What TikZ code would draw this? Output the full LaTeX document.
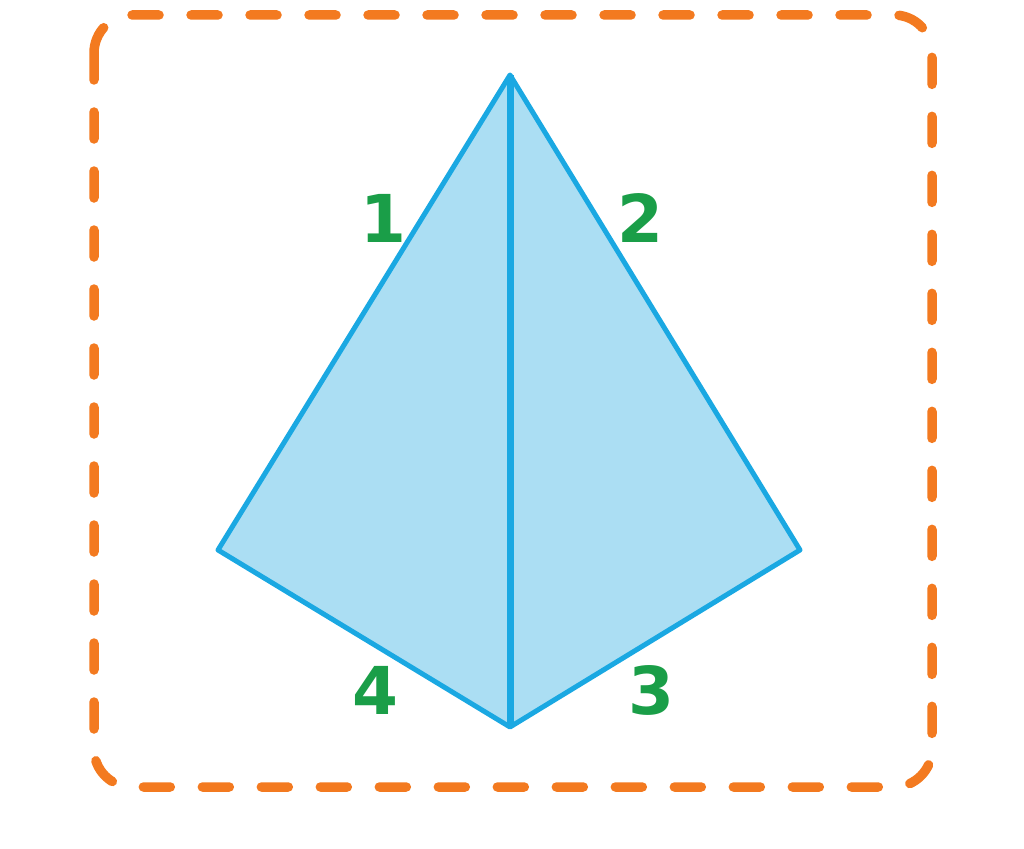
\documentclass[tikz,border=0pt]{standalone}
\usepackage{fontspec}
\setmainfont{DejaVu Sans}
\definecolor{kfill}{HTML}{ABDEF3}
\definecolor{kline}{HTML}{1AA8E2}
\definecolor{lgreen}{HTML}{1A9E48}
\definecolor{orng}{HTML}{F37A20}
\begin{document}
\begin{tikzpicture}[x=1pt,y=-1pt,
  edge/.style={draw=kline,line width=5pt,line join=round},
  lbl/.style={text=lgreen,font=\fontsize{66}{66}\selectfont\bfseries,inner sep=0pt}]
\useasboundingbox (0,0) rectangle (1024,848);
\draw[orng,line width=9.5pt,line cap=round,dash pattern=on 27pt off 32pt,rounded corners=38pt] (94,15) rectangle (932,787);
\coordinate (T) at (510,75);
\coordinate (L) at (218,550);
\coordinate (R) at (800,550);
\coordinate (B) at (510,727);
\fill[kfill] (T) -- (R) -- (B) -- (L) -- cycle;
\draw[edge] (T) -- (R) -- (B) -- (L) -- cycle;
\draw[kline,line width=7pt] (T) -- (B);
\node[lbl] (n1) at (383,218) {1};
\node[lbl] (n2) at (640,218) {2};
\node[lbl] (n3) at (651,690) {3};
\node[lbl] (n4) at (375,690) {4};
\end{tikzpicture}
\end{document}
